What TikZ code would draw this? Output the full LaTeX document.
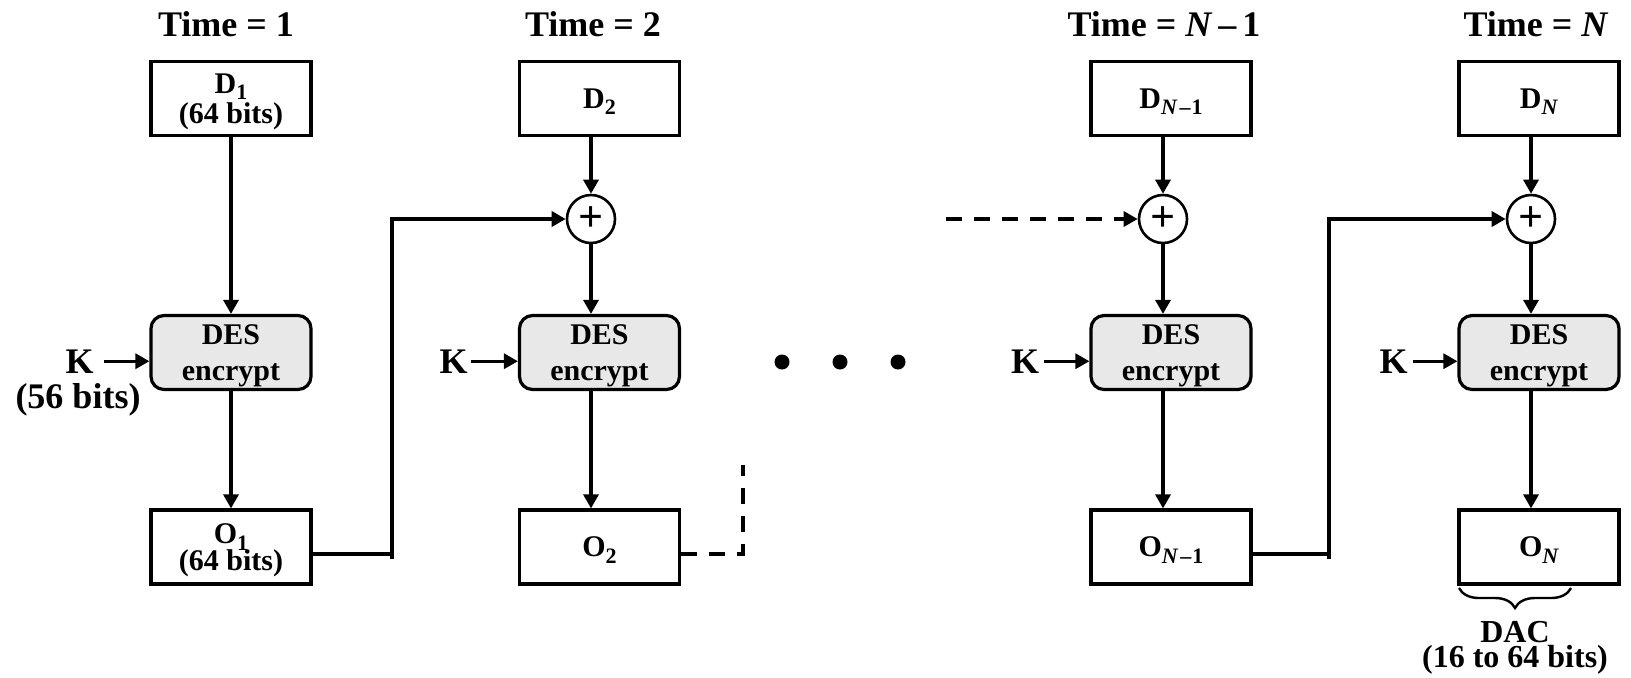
\documentclass[tikz,border=0pt]{standalone}
\usepackage{fontspec}
\setmainfont{Liberation Serif}
\usetikzlibrary{arrows.meta,decorations.pathreplacing}

% lowered, smaller subscript that does not add depth to its line
\newcommand{\lowsub}[1]{\smash{\raisebox{-3.3pt}{\fontsize{11}{11}\selectfont #1}}}

\begin{document}
\lineskiplimit=-50pt
\begin{tikzpicture}[x=0.5pt,y=-0.5pt,
  every node/.style={font=\bfseries},
  block/.style={draw, line width=1.6pt, minimum width=80pt, minimum height=37pt,
    inner sep=0pt, align=center, font=\fontsize{15}{15}\selectfont\bfseries},
  outblock/.style={block, font=\fontsize{15}{13.5}\selectfont\bfseries},
  desbox/.style={block, rounded corners=6.5pt, fill=black!9,
    font=\fontsize{15}{18}\selectfont\bfseries},
  xor/.style={draw, circle, line width=1.3pt, minimum size=24pt, inner sep=0pt,
    font=\fontsize{22}{22}\selectfont\bfseries},
  biglbl/.style={anchor=base, inner sep=0pt, font=\fontsize{18}{18}\selectfont\bfseries},
  tip/.style={-{Triangle[length=7pt,width=7.5pt]}},
  arr/.style={line width=1.6pt, tip},
  wire/.style={line width=1.7pt},
  dashwire/.style={line width=1.6pt, dash pattern=on 8pt off 6pt},
  dot/.style={circle, fill, inner sep=0pt, minimum size=7.5pt}
]
\useasboundingbox (0,0) rectangle (1631,677);

% time labels
\node[biglbl] (t1) at (226,36) {Time = 1};
\node[biglbl] (t2) at (593,36) {Time = 2};
\node[biglbl] (t3) at (1164,36) {Time = \textit{N}\,–\,1};
\node[biglbl] (t4) at (1536,36) {Time = \textit{N}};

% data blocks
\node[block] (D1) at (231,98.5) {D\lowsub{1}\\\smash{(64 bits)}};
\node[block] (D2) at (599.5,98.5) {D\lowsub{2}};
\node[block] (D3) at (1171,98.5) {D\lowsub{\textit{N}\kern1pt–\kern0.5pt1}};
\node[block] (D4) at (1539,98.5) {D\lowsub{\textit{N}}};

% XOR junctions
\node[xor] (X2) at (591,219) {+};
\node[xor] (X3) at (1163,219) {+};
\node[xor] (X4) at (1531,219) {+};

% DES encryption stages
\node[desbox] (E1) at (231,352.5) {DES\\\smash{encrypt}};
\node[desbox] (E2) at (599.5,352.5) {DES\\\smash{encrypt}};
\node[desbox] (E3) at (1171,352.5) {DES\\\smash{encrypt}};
\node[desbox] (E4) at (1539,352.5) {DES\\\smash{encrypt}};

% output blocks
\node[outblock] (O1) at (231,547) {O\lowsub{1}\\\smash{(64 bits)}};
\node[outblock] (O2) at (599.5,547) {O\lowsub{2}};
\node[outblock] (O3) at (1171,547) {O\lowsub{\textit{N}\kern1pt–\kern0.5pt1}};
\node[outblock] (O4) at (1539,547) {O\lowsub{\textit{N}}};

% key inputs
\node[biglbl] (K1) at (79.5,373) {K};
\node[biglbl] (K1b) at (78,408) {(56 bits)};
\node[biglbl] (K2) at (453.5,373) {K};
\node[biglbl] (K3) at (1025,373) {K};
\node[biglbl] (K4) at (1393.5,373) {K};

% ellipsis
\node[dot] (dA) at (782,362) {};
\node[dot] (dB) at (840,362) {};
\node[dot] (dC) at (898,362) {};

% column 1
\draw[arr] (D1) -- (E1);
\draw[arr] (E1) -- (O1);
% columns with chaining
\foreach \i in {2,3,4}{
  \draw[arr] (D\i.south -| X\i) -- (X\i);
  \draw[arr] (X\i) -- (X\i |- E\i.north);
  \draw[arr] (X\i |- E\i.south) -- (X\i |- O\i.north);
}

% keys into DES
\draw[arr] ([xshift=5pt]K1.east) -- (K1.east -| E1.west);
\draw[arr] ([xshift=1.5pt]K2.east) -- (K2.east -| E2.west);
\draw[arr] ([xshift=2.5pt]K3.east) -- (K3.east -| E3.west);
\draw[arr] ([xshift=2.5pt]K4.east) -- (K4.east -| E4.west);

% feedback O1 -> X2
\coordinate (f1m) at (392,554);
\coordinate (f1b) at (392,559);
\coordinate (f1t) at (392,219);
\draw[wire] (O1.east |- f1m) -- (f1m);
\draw[wire, tip] (f1b) -- (f1t) -- (X2.west);

% elided chain
\coordinate (g1) at (743,554);
\coordinate (g2) at (743,465);
\draw[dashwire] (O2.east |- g1) -- (g1) -- (g2);
\coordinate (h1) at (946,219);
\draw[dashwire, tip] (h1) -- (X3.west);

% feedback O_{N-1} -> X_N
\coordinate (f2m) at (1329,554);
\coordinate (f2b) at (1329,559);
\coordinate (f2t) at (1329,219);
\draw[wire] (O3.east |- f2m) -- (f2m);
\draw[wire, tip] (f2b) -- (f2t) -- (X4.west);

% DAC brace
\coordinate (b1) at (1459,588);
\coordinate (b2) at (1571,588);
\draw[line width=1.2pt, decorate, decoration={brace, mirror, amplitude=10pt}] (b1) -- (b2);
\node[anchor=north, inner sep=0pt, align=center, font=\fontsize{16}{12.5}\selectfont\bfseries]
  (dac) at (1515,621) {DAC\\(16 to 64 bits)};
\end{tikzpicture}
\end{document}
